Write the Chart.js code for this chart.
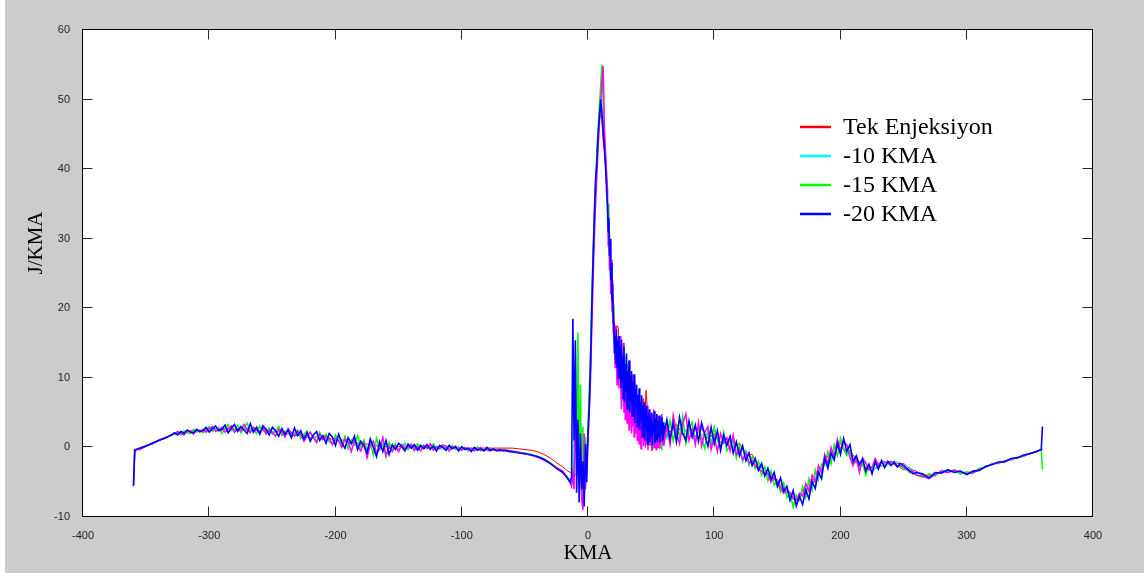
<!DOCTYPE html>
<html>
<head>
<meta charset="utf-8">
<script src="https://cdn.jsdelivr.net/npm/chart.js@4"></script>
<style>
  html, body { margin: 0; padding: 0; background: #fff; }
  canvas { display: block; }
</style>
</head>
<body>
<canvas id="chart" width="1144" height="576"></canvas>
<script>
// crank angle (KMA) for the two smoother runs
const coarseAngle = [
  -360, -359, -355, -350, -345, -340, -335, -330, -325, -320,
  -315, -310, -305, -300, -295, -290, -285, -280, -275, -270,
  -265, -260, -255, -250, -245, -240, -235, -230, -225, -220,
  -215, -210, -205, -200, -195, -190, -185, -180, -175, -170,
  -165, -160, -155, -150, -145, -140, -135, -130, -125, -120,
  -115, -110, -105, -100, -95, -90, -85, -80, -75, -70,
  -65, -60, -55, -50, -45, -40, -35, -30, -25,
  -20, -19, -18, -17, -16, -15, -14, -13, -12, -11,
  -10, -9, -8, -7, -6, -5, -4, -3, -2, -1,
  0, 1, 2, 3, 4, 5, 6, 7, 8, 9,
  10, 11, 12, 13, 14, 15, 16, 17, 18, 19,
  20, 21, 22, 23, 24, 25, 26, 27, 28, 29,
  30, 31, 32, 33, 34, 35, 36, 37, 38, 39,
  40, 41, 42, 43, 44, 45, 46, 47, 48, 49,
  50, 51, 52, 53, 54, 55, 56, 57, 58, 59,
  60,
  65, 70, 75, 80, 85, 90, 95, 100, 105, 110,
  115, 120, 125, 130, 135, 140, 145, 150, 155, 160,
  165, 170, 175, 180, 185, 190, 195, 200, 205, 210,
  215, 220, 225, 230, 235, 240, 245, 250, 255, 260,
  265, 270, 275, 280, 285, 290, 295, 300, 305, 310,
  315, 320, 325, 330, 335, 340, 345, 350, 355, 359,
  360
];

// crank angle (KMA) for the three noisy runs
const fineAngle = [
  -360, -359, -355, -350, -345, -340, -335, -330,
  -327.5, -325, -322.5, -320, -317.5, -315, -312.5, -310, -307.5, -305,
  -302.5, -300, -297.5, -295, -292.5, -290, -287.5, -285, -282.5, -280,
  -277.5, -275, -272.5, -270, -267.5, -265, -262.5, -260, -257.5, -255,
  -252.5, -250, -247.5, -245, -242.5, -240, -237.5, -235, -232.5, -230,
  -227.5, -225, -222.5, -220, -217.5, -215, -212.5, -210, -207.5, -205,
  -202.5, -200, -197.5, -195, -192.5, -190, -187.5, -185, -182.5, -180,
  -177.5, -175, -172.5, -170, -167.5, -165, -162.5, -160, -157.5, -155,
  -152.5, -150, -147.5, -145, -142.5, -140, -137.5, -135, -132.5, -130,
  -127.5, -125, -122.5, -120, -117.5, -115, -112.5, -110, -107.5, -105,
  -102.5, -100, -97.5, -95, -92.5, -90, -87.5, -85, -82.5, -80,
  -77.5, -75, -72.5, -70, -67.5, -65, -62.5, -60,
  -55, -50, -45, -40, -35, -30, -25,
  -20, -19, -18, -17, -16, -15, -14, -13, -12, -11,
  -10, -9, -8, -7, -6, -5, -4, -3, -2, -1,
  0, 1, 2, 3, 4, 5, 6, 7, 8, 9,
  10, 11, 12, 13, 14, 15,
  15.5, 16, 16.5, 17, 17.5, 18, 18.5, 19, 19.5, 20,
  20.5, 21, 21.5, 22, 22.5, 23, 23.5, 24, 24.5, 25,
  25.5, 26, 26.5, 27, 27.5, 28, 28.5, 29, 29.5, 30,
  30.5, 31, 31.5, 32, 32.5, 33, 33.5, 34, 34.5, 35,
  35.5, 36, 36.5, 37, 37.5, 38, 38.5, 39, 39.5, 40,
  40.5, 41, 41.5, 42, 42.5, 43, 43.5, 44, 44.5, 45,
  45.5, 46, 46.5, 47, 47.5, 48, 48.5, 49, 49.5, 50,
  50.5, 51, 51.5, 52, 52.5, 53, 53.5, 54, 54.5, 55,
  55.5, 56, 56.5, 57, 57.5, 58, 58.5, 59, 59.5, 60,
  62.5, 65, 67.5, 70, 72.5, 75, 77.5, 80, 82.5, 85,
  87.5, 90, 92.5, 95, 97.5, 100, 102.5, 105, 107.5, 110,
  112.5, 115, 117.5, 120, 122.5, 125, 127.5, 130, 132.5, 135,
  137.5, 140, 142.5, 145, 147.5, 150, 152.5, 155, 157.5, 160,
  162.5, 165, 167.5, 170, 172.5, 175, 177.5, 180, 182.5, 185,
  187.5, 190, 192.5, 195, 197.5, 200, 202.5, 205, 207.5, 210,
  212.5, 215, 217.5, 220, 222.5, 225, 227.5, 230, 232.5, 235,
  237.5, 240, 242.5, 245, 247.5, 250, 252.5, 255, 257.5, 260,
  265, 270, 275, 280, 285, 290, 295, 300, 305, 310,
  315, 320, 325, 330, 335, 340, 345, 350, 355,
  359, 360
];

const tekEnjeksiyon = [
  -0.5, -0.4, -0.2, 0.2, 0.6, 1.0, 1.4, 1.8, 2.0, 2.1,
  2.4, 2.3, 2.5, 2.6, 2.7, 2.5, 2.8, 2.6, 2.8, 2.5,
  2.7, 2.4, 2.5, 2.2, 2.3, 1.9, 2.0, 1.7, 1.7, 1.4,
  1.5, 1.2, 1.3, 1.0, 1.1, 0.7, 0.8, 0.4, 0.5, 0.2,
  0.3, 0.1, 0.3, 0.1, 0.2, 0.0, 0.1, 0.0, 0.0, -0.1,
  0.0, -0.1, -0.1, -0.1, -0.1, -0.1, -0.1, -0.1, -0.1, -0.1,
  -0.1, -0.1, -0.2, -0.3, -0.4, -0.6, -1.0, -1.5, -2.2,
  -2.8, -2.95, -3.1, -3.25, -3.4, -3.5, -3.6, -3.7, -3.8, -3.8,
  -3.9, -3.9, -3.8, -3.7, -3.6, -3.5, -3.3, -3.0, -2.5, -1.0,
  2.0, 6.5, 11.0, 18.5, 25.0, 31.5, 36.0, 40.5, 44.0, 47.0,
  48.5, 47.0, 44.0, 42.5, 40.0, 38.0, 33.0, 30.0, 26.0, 24.0,
  21.0, 18.0, 16.0, 17.5, 17.2, 13.0, 14.5, 10.5, 12.0, 9.0,
  11.0, 7.5, 10.0, 6.0, 9.0, 5.0, 8.0, 4.5, 7.0, 3.5,
  6.5, 3.0, 6.0, 2.5, 7.0, 5.0, 8.2, 5.5, 4.0, 2.0,
  1.0, -0.4, 3.5, 1.5, 3.8, 1.0, 3.2, 1.6, 3.5, 1.2,
  3.0,
  2.2, 3.4, 1.8, 3.0, 1.6, 2.7, 1.3, 2.0, 0.7, 1.3,
  0.0, 0.6, -1.0, -1.0, -2.8, -3.0, -4.6, -4.6, -6.4, -6.6,
  -7.7, -6.2, -5.8, -3.8, -3.2, -1.2, -0.8, 0.6, -0.8, -1.1,
  -2.5, -2.8, -3.4, -2.6, -2.7, -2.1, -2.3, -2.3, -3.1, -3.4,
  -4.0, -4.1, -3.8, -3.5, -3.4, -3.4, -3.6, -3.7, -3.5, -3.2,
  -2.8, -2.4, -2.2, -2.0, -1.7, -1.5, -1.2, -0.9, -0.6, -0.3,
  -0.3
];

const kma10 = [
  -5.5, -0.4, -0.2, 0.2, 0.6, 1.0, 1.4, 1.8, 2.0, 2.3,
  2.2, 2.5, 2.3, 2.8, 2.4, 2.8, 2.5, 3.0, 2.4, 2.9,
  2.3, 2.8, 2.1, 2.6, 1.9, 2.3, 1.6, 2.2, 1.3, 1.8,
  1.1, 1.7, 0.9, 1.4, 0.7, 1.2, 0.3, 0.9, 0.0, 0.7,
  -0.3, 0.6, -0.2, 0.5, 0.0, 0.3, -0.1, 0.2, -0.2, 0.2,
  -0.3, 0.1, -0.2, -0.1, -0.3, -0.1, -0.4, -0.2, -0.4, -0.3,
  -0.4, -0.5, -0.7, -0.8, -1.0, -1.3, -1.7, -2.2, -2.9,
  -3.6, -3.8, -4.0, -4.2, -4.5, -4.8, -5.0, -5.3, -3.0, 10.0,
  2.0, -4.0, 6.0, -6.0, 0.0, -4.0, -7.0, -1.0, -4.0, 0.0,
  2.5, 7.0, 13.0, 20.5, 27.5, 33.5, 38.0, 41.5, 45.5, 48.0,
  50.5, 49.0, 46.0, 43.5, 40.5, 36.5, 31.5, 27.5, 24.0, 21.0,
  18.5, 14.5, 16.5, 12.0, 16.0, 10.5, 15.0, 9.0, 13.5, 7.5,
  13.0, 6.5, 11.5, 5.5, 10.5, 4.8, 9.5, 4.0, 8.5, 3.2,
  7.5, 2.8, 7.0, 2.2, 6.2, 1.8, 5.8, 1.2, 5.2, 1.6,
  4.8, 0.8, 4.4, 1.2, 4.3, 1.0, 3.9, 1.1, 4.0, 0.8,
  3.6,
  2.9, 2.4, 2.7, 2.0, 2.5, 1.8, 2.0, 1.2, 1.5, 0.6,
  0.8, -0.3, -0.4, -1.7, -2.2, -3.7, -4.0, -5.3, -5.8, -7.2,
  -7.2, -6.9, -5.3, -4.5, -2.6, -1.8, -0.3, 0.0, -0.3, -1.6,
  -2.0, -3.2, -3.0, -3.0, -2.4, -2.5, -2.0, -2.5, -2.9, -3.6,
  -3.9, -4.2, -3.8, -3.5, -3.4, -3.4, -3.6, -3.7, -3.5, -3.2,
  -2.8, -2.4, -2.2, -2.0, -1.7, -1.5, -1.2, -0.9, -0.6, -0.3,
  -0.3
];

const kma15 = [
  -4.5, -0.4, -0.2, 0.3, 0.5, 1.1, 1.4, 1.7,
  1.9, 2.2, 1.8, 2.4, 2.1, 2.0, 2.6, 2.2, 2.5, 2.1,
  2.4, 3.0, 2.3, 2.6, 2.9, 2.0, 2.7, 3.3, 2.4, 2.6,
  3.2, 2.1, 2.8, 3.5, 2.3, 2.6, 2.0, 3.1, 2.4, 2.2,
  2.8, 1.9, 2.3, 3.0, 1.7, 2.2, 2.6, 1.5, 2.0, 2.5,
  1.3, 1.9, 2.4, 1.1, 1.6, 0.8, 2.2, 1.3, 1.9, 0.8,
  0.6, 1.8, 1.0, 0.2, 1.6, -0.2, 1.1, 0.4, 1.7, 0.1,
  1.1, -0.4, 0.6, -1.1, 1.3, -0.3, 0.5, -1.4, 0.7, -0.2,
  0.5, -0.4, 0.2, 0.6, -0.3, 0.2, -0.5, 0.5, 0.0, 0.3,
  -0.2, 0.1, 0.5, -0.2, 0.0, 0.4, -0.3, -0.1, 0.3, -0.3,
  0.1, -0.4, 0.0, -0.5, -0.1, -0.3, 0.1, -0.5, -0.2, -0.4,
  -0.1, -0.4, -0.3, -0.5, -0.3, -0.5, -0.4, -0.5,
  -0.7, -0.8, -1.0, -1.3, -1.6, -2.2, -2.9,
  -3.5, -3.7, -3.9, -4.1, -4.3, -4.6, -4.9, -5.2, -4.5, -2.0,
  6.0, 2.0, 16.5, -3.0, 9.0, -5.5, 3.0, -7.0, 1.5, -4.0,
  3.0, 8.0, 14.0, 21.5, 28.0, 34.0, 38.0, 42.5, 46.0, 49.0,
  52.0, 55.0, 50.0, 44.0, 41.0, 37.0,
  33.0, 35.0, 29.5, 31.0, 26.0, 28.0, 22.5, 24.5, 19.0, 20.5,
  15.0, 17.5, 12.5, 16.0, 13.5, 10.5, 14.5, 12.0, 9.5, 14.0,
  11.0, 13.0, 7.5, 12.5, 10.0, 6.0, 11.5, 8.5, 5.5, 10.5,
  7.5, 12.0, 5.0, 9.5, 4.5, 8.0, 10.5, 3.5, 7.0, 9.0,
  4.0, 8.5, 5.5, 2.5, 7.0, 3.0, 2.5, 3.5, 2.0, 6.5,
  3.0, 2.5, 5.5, 2.8, 1.8, 3.2, 4.5, 0.8, 5.0, 2.0,
  1.2, 4.8, 2.2, 0.4, 5.2, 1.0, 3.8, 0.2, 4.5, 1.6,
  0.6, 4.2, 1.4, -0.2, 3.6, 2.4, 0.4, 4.0, 1.0, 3.2,
  0.2, 3.8, 1.8, 0.5, 4.2, 2.6, -0.4, 3.4, 1.2, 3.0,
  1.4, 3.9, 0.9, 3.0, 1.6, 4.5, 0.6, 2.4, 3.6, 0.8,
  2.8, 1.5, -0.2, 2.5, 0.4, 2.9, 1.0, 0.0, 2.2, -0.5,
  0.3, 1.0, -1.5, 0.4, -2.0, -0.6, -2.6, -1.4, -3.0, -2.0,
  -4.0, -2.8, -4.8, -3.4, -5.4, -4.8, -6.4, -5.1, -7.2, -6.6,
  -8.6, -6.8, -7.6, -5.6, -7.2, -4.5, -6.1, -3.2, -4.6, -2.4,
  -2.6, -0.6, -2.4, 0.4, -1.2, 1.3, -0.3, -1.2, -0.4, -2.4,
  -2.0, -3.0, -2.2, -4.0, -2.6, -3.1, -2.4, -2.8, -2.2, -2.4,
  -2.4, -2.2, -2.0, -2.6, -2.9, -3.2, -3.1, -3.7, -3.5, -3.9,
  -4.3, -3.8, -4.1, -3.3, -3.6, -3.2, -3.8, -3.5, -3.7, -3.0,
  -2.9, -2.3, -2.3, -1.9, -1.8, -1.4, -1.3, -0.8, -0.7,
  -0.3, -3.2
];

const kma20 = [
  -5.5, -0.4, -0.1, 0.2, 0.6, 1.0, 1.3, 1.8,
  2.1, 1.8, 2.3, 2.0, 2.5, 2.2, 2.1, 2.6, 2.3, 2.4,
  2.9, 2.2, 2.7, 3.1, 2.4, 2.6, 3.2, 2.1, 2.8, 3.3,
  2.3, 3.0, 2.5, 2.0, 3.4, 2.2, 2.9, 1.9, 3.1, 2.6,
  1.8, 2.9, 2.4, 1.6, 2.7, 1.9, 2.5, 1.4, 2.8, 1.7,
  2.4, 1.2, 2.1, 0.9, 1.8, 2.3, 1.0, 1.7, 0.6, 2.0,
  1.5, 0.3, 1.9, 0.7, -0.1, 1.4, 0.5, 1.6, -0.3, 0.9,
  0.2, -0.8, 1.2, 0.0, -1.3, 0.8, -0.6, 1.0, -1.0, 0.4,
  -0.3, 0.6, 0.1, -0.5, 0.5, -0.1, 0.4, -0.4, 0.3, -0.2,
  0.4, -0.3, 0.2, -0.5, 0.3, 0.0, -0.4, 0.3, -0.2, 0.1,
  -0.5, 0.1, -0.3, -0.1, -0.6, 0.0, -0.4, -0.2, -0.5, 0.0,
  -0.4, -0.2, -0.5, -0.3, -0.5, -0.4, -0.6, -0.6,
  -0.8, -0.9, -1.1, -1.3, -1.7, -2.3, -3.0,
  -3.6, -3.8, -4.0, -4.2, -4.5, -4.8, -5.0, -4.2, 18.5, 1.0,
  15.4, -6.5, 4.0, -7.9, 2.0, -6.0, -2.0, -8.5, 0.5, -5.0,
  2.0, 6.0, 12.0, 20.0, 27.0, 33.0, 38.5, 41.0, 45.0, 47.5,
  50.0, 48.0, 45.5, 43.0, 40.0, 36.0,
  34.5, 31.0, 33.0, 27.5, 30.0, 24.0, 26.5, 21.0, 23.5, 18.0,
  17.5, 13.5, 16.0, 12.0, 17.0, 11.5, 15.5, 10.0, 16.0, 11.0,
  14.5, 8.5, 15.5, 9.5, 13.0, 7.0, 14.5, 6.5, 12.0, 8.0,
  13.5, 5.5, 11.0, 7.0, 12.5, 5.0, 10.0, 6.5, 11.0, 4.5,
  9.5, 5.5, 10.5, 3.5, 8.0, 6.0, 9.0, 3.0, 7.5, 4.5,
  8.5, 2.5, 6.5, 4.0, 7.5, 1.5, 6.0, 3.0, 6.5, 1.0,
  5.5, 2.5, 6.0, 0.5, 4.5, 2.0, 5.5, 0.8, 4.0, 1.5,
  5.0, 0.3, 3.5, 2.0, 5.2, 0.6, 4.0, 1.2, 4.8, 0.8,
  3.8, 1.5, 4.6, 0.7, 3.2, 2.0, 4.4, 0.9, 3.6, 1.8,
  4.0, 1.2, 3.5, 0.8, 4.3, 2.0, 1.0, 3.8, 1.5, 3.2,
  0.9, 3.5, 1.8, 0.2, 2.9, 0.5, 2.4, -0.4, 1.8, 0.3,
  1.6, -0.8, 0.8, -1.2, 0.2, -1.9, -0.8, -2.6, -1.6, -3.3,
  -2.3, -4.1, -3.0, -4.6, -3.6, -5.6, -4.4, -6.3, -5.6, -7.6,
  -6.2, -8.4, -7.0, -8.2, -6.1, -7.4, -4.9, -5.9, -3.5, -4.5,
  -1.5, -3.0, -0.8, -1.8, 0.6, -1.0, 1.3, -0.6, 0.4, -2.0,
  -1.2, -2.5, -1.6, -3.4, -2.4, -3.8, -2.0, -3.1, -1.9, -2.9,
  -2.0, -2.6, -2.1, -2.8, -2.3, -2.6, -3.0, -3.4, -3.8, -3.6,
  -3.8, -4.4, -3.6, -3.7, -3.2, -3.6, -3.4, -3.9, -3.4, -3.3,
  -2.7, -2.5, -2.1, -2.1, -1.6, -1.5, -1.1, -0.9, -0.6,
  -0.3, 3.0
];

// fifth trace in the plot, not listed in the legend
const extraRun = [
  -5.5, -0.3, -0.3, 0.2, 0.6, 1.0, 1.4, 1.8,
  2.0, 2.3, 2.0, 1.8, 2.4, 2.3, 1.9, 2.5, 2.2, 2.6,
  2.2, 2.7, 3.0, 2.3, 2.5, 2.9, 2.2, 2.6, 3.1, 2.2,
  2.7, 2.4, 3.3, 2.6, 2.1, 2.9, 2.5, 2.2, 2.8, 1.9,
  2.5, 2.2, 1.6, 2.6, 2.3, 1.5, 2.7, 2.1, 1.6, 2.3,
  1.9, 0.9, 1.6, 2.2, 1.4, 0.7, 1.9, 1.1, 1.6, 1.3,
  0.4, 1.3, 0.9, 0.0, 1.2, 0.8, -0.6, 1.0, 0.3, -0.5,
  0.7, -1.5, 0.3, 0.9, -0.9, -0.2, 1.4, -1.2, 0.1, -0.6,
  0.2, -0.6, 0.4, -0.2, 0.0, 0.5, -0.4, 0.1, -0.5, 0.3,
  -0.1, 0.5, -0.4, 0.1, -0.2, 0.3, 0.2, -0.5, 0.0, 0.2,
  -0.2, -0.4, 0.0, -0.3, -0.2, -0.5, -0.2, 0.0, -0.4, -0.3,
  -0.5, -0.3, -0.4, -0.5, -0.3, -0.5, -0.5, -0.6,
  -0.7, -0.9, -1.1, -1.4, -1.8, -2.3, -2.9,
  -3.4, -3.7, -4.0, -4.3, -4.4, -4.7, -5.1, -5.6, -4.0, -6.0,
  8.0, -2.0, 3.0, -5.0, -1.0, -7.5, -9.0, 2.0, -6.0, -2.0,
  1.0, 5.0, 10.0, 17.0, 24.0, 30.0, 35.0, 39.0, 43.0, 46.5,
  49.0, 52.5, 54.8, 46.0, 42.0, 38.5,
  37.0, 29.0, 32.5, 25.5, 29.5, 22.0, 27.0, 19.5, 24.0, 16.5,
  19.0, 14.0, 11.5, 17.5, 12.5, 9.0, 13.0, 16.0, 8.5, 14.0,
  16.0, 9.0, 5.5, 13.5, 7.0, 15.0, 5.0, 10.5, 4.0, 12.0,
  6.0, 3.5, 11.0, 6.5, 2.5, 12.5, 4.0, 8.5, 2.0, 10.5,
  3.0, 8.0, 1.5, 9.5, 4.5, 2.0, 7.5, 1.0, 6.0, 3.5,
  0.5, 6.5, 2.5, -0.2, 5.0, 1.5, 7.0, 0.2, 3.5, 5.5,
  0.0, 4.0, 1.0, 6.0, -0.4, 3.0, 5.0, 0.3, 2.5, 4.8,
  -0.5, 3.5, 1.8, 5.5, 0.0, 4.2, 2.0, -0.3, 4.8, 1.5,
  0.0, 4.5, 2.8, -0.2, 3.5, 1.0, 4.8, 0.4, 3.0, 0.2,
  3.0, 0.4, 4.6, 2.2, 0.5, 3.4, 4.8, 1.0, 2.6, 0.4,
  3.6, 0.2, 2.2, 3.0, -0.3, 1.5, -0.6, 2.0, 0.6, 1.4,
  -0.5, 1.8, -1.0, -0.4, -1.8, -0.8, -2.2, -2.0, -2.6, -3.2,
  -3.4, -3.7, -3.8, -5.0, -4.2, -5.2, -5.8, -6.6, -6.1, -6.5,
  -7.4, -7.6, -6.6, -7.0, -5.2, -6.3, -4.0, -5.0, -2.6, -3.6,
  -1.0, -2.4, 0.0, -1.5, 1.2, -0.4, 0.8, 0.4, -1.5, -2.6,
  -1.5, -3.6, -1.6, -2.2, -3.2, -2.8, -1.6, -2.5, -2.0, -2.1,
  -2.2, -2.0, -2.4, -2.7, -2.6, -2.9, -3.2, -3.4, -3.4, -4.0,
  -4.1, -4.5, -3.9, -3.4, -3.6, -3.3, -3.5, -3.8, -3.6, -3.2,
  -2.8, -2.4, -2.2, -2.0, -1.7, -1.5, -1.2, -0.9, -0.6,
  -0.3, -0.3
];

const legendNames = ['Tek Enjeksiyon', '-10 KMA', '-15 KMA', '-20 KMA'];
const legendColors = ['#ff0000', '#00ffff', '#00ff00', '#0000ff'];

function toPoints(xs, ys) {
  return xs.map(function (x, i) { return { x: x, y: ys[i] }; });
}

function trace(label, xs, ys, color, order, width) {
  return {
    label: label,
    data: toPoints(xs, ys),
    borderColor: color,
    borderWidth: width,
    pointRadius: 0,
    fill: false,
    tension: 0,
    order: order
  };
}

const matlabFrame = {
  id: 'matlabFrame',
  beforeDraw(chart) {
    const c = chart.ctx;
    const a = chart.chartArea;
    c.save();
    c.fillStyle = '#ffffff';
    c.fillRect(0, 0, chart.width, chart.height);
    c.fillStyle = '#cccccc';
    c.fillRect(5, 0, chart.width - 5, chart.height - 3);
    c.fillStyle = '#ffffff';
    c.fillRect(a.left, a.top, a.right - a.left, a.bottom - a.top);
    c.restore();
  },
  afterDatasetsDraw(chart) {
    const c = chart.ctx;
    const a = chart.chartArea;
    const xs = chart.scales.x;
    const ys = chart.scales.y;
    const l = Math.round(a.left) - 0.5, r = Math.round(a.right) - 0.5;
    const t = Math.round(a.top) - 0.5, b = Math.round(a.bottom) - 0.5;
    c.save();
    c.lineWidth = 1;
    c.strokeStyle = '#262626';
    c.beginPath();
    xs.ticks.forEach(function (tk) {
      const px = Math.round(xs.getPixelForValue(tk.value)) - 0.5;
      c.moveTo(px, b); c.lineTo(px, b - 10);
      c.moveTo(px, t); c.lineTo(px, t + 10);
    });
    ys.ticks.forEach(function (tk) {
      const py = Math.round(ys.getPixelForValue(tk.value)) - 0.5;
      c.moveTo(l, py); c.lineTo(l + 10, py);
      c.moveTo(r, py); c.lineTo(r - 10, py);
    });
    c.stroke();
    c.strokeStyle = '#000000';
    c.strokeRect(l, t, r - l, b - t);
    c.restore();
  },
  afterDraw(chart) {
    const c = chart.ctx;
    const a = chart.chartArea;
    c.save();
    c.fillStyle = '#000000';
    c.font = '21px "Liberation Serif"';
    c.textAlign = 'center';
    c.textBaseline = 'middle';
    c.fillText('KMA', (a.left + a.right) / 2, 553);
    c.translate(36, 243);
    c.rotate(-Math.PI / 2);
    c.fillText('J/KMA', 0, 0);
    c.restore();

    c.save();
    c.font = '24px "Liberation Serif"';
    c.textAlign = 'left';
    c.textBaseline = 'middle';
    c.lineWidth = 2.5;
    legendNames.forEach(function (name, i) {
      const y = 127 + i * 29;
      c.strokeStyle = legendColors[i];
      c.beginPath();
      c.moveTo(800, y); c.lineTo(831, y);
      c.stroke();
      c.fillStyle = '#000000';
      c.fillText(name, 843, y + 1);
    });
    c.restore();
  }
};

const tickFont = { family: '"Liberation Sans", Arial, sans-serif', size: 11 };

new Chart(document.getElementById('chart').getContext('2d'), {
  type: 'line',
  data: {
    datasets: [
      trace('-20 KMA', fineAngle, kma20, '#0000ff', 0, 1.6),
      trace('', fineAngle, extraRun, '#ff00ff', 1, 1.5),
      trace('-15 KMA', fineAngle, kma15, '#00ff00', 2, 1.5),
      trace('-10 KMA', coarseAngle, kma10, '#00ffff', 3, 1),
      trace('Tek Enjeksiyon', coarseAngle, tekEnjeksiyon, '#ff0000', 4, 1)
    ]
  },
  options: {
    responsive: false,
    animation: false,
    layout: { padding: { top: 30, right: 51, left: 0, bottom: 0 } },
    plugins: {
      legend: { display: false },
      tooltip: { enabled: false }
    },
    scales: {
      x: {
        type: 'linear',
        min: -400,
        max: 400,
        ticks: { stepSize: 100, font: tickFont, color: '#222222', padding: 4, maxRotation: 0, autoSkip: false },
        grid: { display: false },
        border: { display: false },
        afterFit(s) { s.height = 59; }
      },
      y: {
        type: 'linear',
        min: -10,
        max: 60,
        ticks: { stepSize: 10, font: tickFont, color: '#222222', padding: 5 },
        grid: { display: false },
        border: { display: false },
        afterFit(s) { s.width = 83; }
      }
    }
  },
  plugins: [matlabFrame]
});
</script>
</body>
</html>
